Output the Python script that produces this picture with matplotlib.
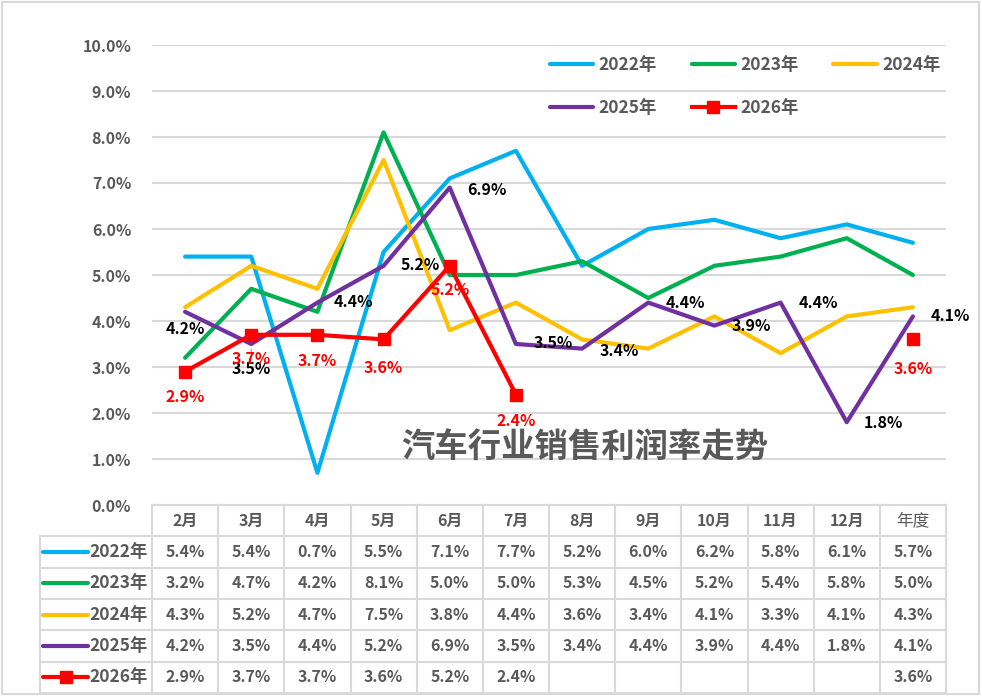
import numpy as np
import matplotlib
matplotlib.use("Agg")
import matplotlib.pyplot as plt
from matplotlib.lines import Line2D
from matplotlib.patches import Rectangle

plt.rcParams['font.family'] = ['Noto Sans CJK SC', 'DejaVu Sans']

months = ['2月', '3月', '4月', '5月', '6月', '7月', '8月', '9月', '10月', '11月', '12月', '年度']
series_names = ['2022年', '2023年', '2024年', '2025年', '2026年']
v2022 = [5.4, 5.4, 0.7, 5.5, 7.1, 7.7, 5.2, 6.0, 6.2, 5.8, 6.1, 5.7]
v2023 = [3.2, 4.7, 4.2, 8.1, 5.0, 5.0, 5.3, 4.5, 5.2, 5.4, 5.8, 5.0]
v2024 = [4.3, 5.2, 4.7, 7.5, 3.8, 4.4, 3.6, 3.4, 4.1, 3.3, 4.1, 4.3]
v2025 = [4.2, 3.5, 4.4, 5.2, 6.9, 3.5, 3.4, 4.4, 3.9, 4.4, 1.8, 4.1]
v2026 = [2.9, 3.7, 3.7, 3.6, 5.2, 2.4, None, None, None, None, None, 3.6]
title = '汽车行业销售利润率走势'

colors = ['#00b0f0', '#00b050', '#ffc000', '#7030a0', '#ff0000']
all_series = [v2022, v2023, v2024, v2025, v2026]

W, H = 982, 696
fig = plt.figure(figsize=(W / 100, H / 100), dpi=100)

# figure border
fig.add_artist(Rectangle((2 / W, 2 / H), (977) / W, (692) / H, transform=fig.transFigure,
                         fill=False, edgecolor='#d9d9d9', lw=1.5))

L, R, T, B = 152, 946, 45, 505
ax = fig.add_axes([L / W, 1 - B / H, (R - L) / W, (B - T) / H])
x = np.arange(len(months))

def arr(v):
    return np.array([np.nan if a is None else a / 100.0 for a in v])

for name, vals, c in zip(series_names, all_series, colors):
    if name == '2026年':
        ax.plot(x, arr(vals), color=c, lw=3, marker='s', markersize=8.5, zorder=5, solid_capstyle='round')
    else:
        ax.plot(x, arr(vals), color=c, lw=3, zorder=4, solid_capstyle='round')

ax.set_xlim(-0.5, 11.5)
ax.set_ylim(0, 0.10)
ax.set_yticks(np.arange(0, 0.1001, 0.01))
ax.set_yticklabels([f'{t * 100:.1f}%' for t in np.arange(0, 0.1001, 0.01)],
                   fontsize=11.5, fontweight='bold', color='#595959')
ax.tick_params(axis='y', length=0, pad=15)
ax.set_xticks([])
for s in ax.spines.values():
    s.set_visible(False)
ax.grid(axis='y', color='#d9d9d9', lw=1.5)
ax.set_axisbelow(True)

# data labels (offsets in pixels)
off2025 = [(0, -17), (0, -25), (36, 1), (37, 1), (37, -2), (37, 1), (37, -2),
           (37, 0), (37, 0), (38, 0), (37, -1), (37, 0)]
for i, (v, o) in enumerate(zip(v2025, off2025)):
    ax.annotate(f'{v:.1f}%', (i, v / 100), xytext=o, textcoords='offset pixels',
                ha='center', va='center', fontsize=11.5, fontweight='bold', color='black', zorder=6)
ax.annotate('', (1, 0.0345), xytext=(0, -14), textcoords='offset pixels',
            arrowprops=dict(arrowstyle='-', color='#a6a6a6', lw=1))

off2026 = [(0, -25), (0, -24), (0, -26), (0, -29), (0, -24), (0, -26),
           None, None, None, None, None, (0, -30)]
for i, (v, o) in enumerate(zip(v2026, off2026)):
    if v is None:
        continue
    ax.annotate(f'{v:.1f}%', (i, v / 100), xytext=o, textcoords='offset pixels',
                ha='center', va='center', fontsize=11.5, fontweight='bold', color='#ff0000', zorder=6)

fig.text(585 / W, 1 - 448 / H, title, ha='center', va='center', fontsize=24,
         fontweight='bold', color='#595959')

# legend (row-wise order: 2022 2023 2024 / 2025 2026)
handles = {}
for name, c in zip(series_names, colors):
    if name == '2026年':
        handles[name] = Line2D([], [], color=c, lw=3, marker='s', markersize=8.5)
    else:
        handles[name] = Line2D([], [], color=c, lw=3, solid_capstyle='round')
order = ['2022年', '2025年', '2023年', '2026年', '2024年']
fig.legend([handles[n] for n in order], order, loc='upper left', bbox_to_anchor=(550 / W, 1 - 56 / H),
           ncol=3, frameon=False, prop={'size': 12.5, 'weight': 'bold'},
           handlelength=2.5, handletextpad=0.3, columnspacing=2.0, labelspacing=1.45,
           borderpad=0, borderaxespad=0, labelcolor='#595959')

# table
TL, TB = 40, 693
tax = fig.add_axes([TL / W, 1 - TB / H, (R - TL) / W, (TB - B) / H])
unit = (R - L) / 12.0
x0 = -0.5 - (L - TL) / unit
tax.set_xlim(x0, 11.5)
tax.set_ylim(6, 0)
tax.axis('off')
gc = '#d9d9d9'
tax.plot([-0.5, 11.5], [0, 0], color=gc, lw=1.5, clip_on=False)
for r in range(1, 7):
    tax.plot([x0, 11.5], [r, r], color=gc, lw=1.5, clip_on=False)
tax.plot([x0, x0], [1, 6], color=gc, lw=1.5, clip_on=False)
for k in range(13):
    tax.plot([-0.5 + k, -0.5 + k], [0, 6], color=gc, lw=1.5, clip_on=False)

for i, m in enumerate(months):
    tax.text(i, 0.5, m, ha='center', va='center', fontsize=12 if m == '年度' else 11.5,
             fontweight='normal' if m == '年度' else 'bold', color='#595959')

hx0 = x0 + 3 / unit
hx1 = x0 + 48 / unit
for r, (name, vals, c) in enumerate(zip(series_names, all_series, colors)):
    yy = r + 1.5
    tax.plot([hx0, hx1], [yy, yy], color=c, lw=3, solid_capstyle='round', clip_on=False)
    if name == '2026年':
        tax.plot([(hx0 + hx1) / 2], [yy], color=c, marker='s', markersize=8.5, clip_on=False)
    tax.text(hx1 + 1 / unit, yy, name, ha='left', va='center', fontsize=12.5,
             fontweight='bold', color='#595959')
    for i, v in enumerate(vals):
        if v is None:
            continue
        tax.text(i, yy, f'{v:.1f}%', ha='center', va='center', fontsize=11.5,
                 fontweight='bold', color='#595959')

fig.savefig('out.png', dpi=100)
